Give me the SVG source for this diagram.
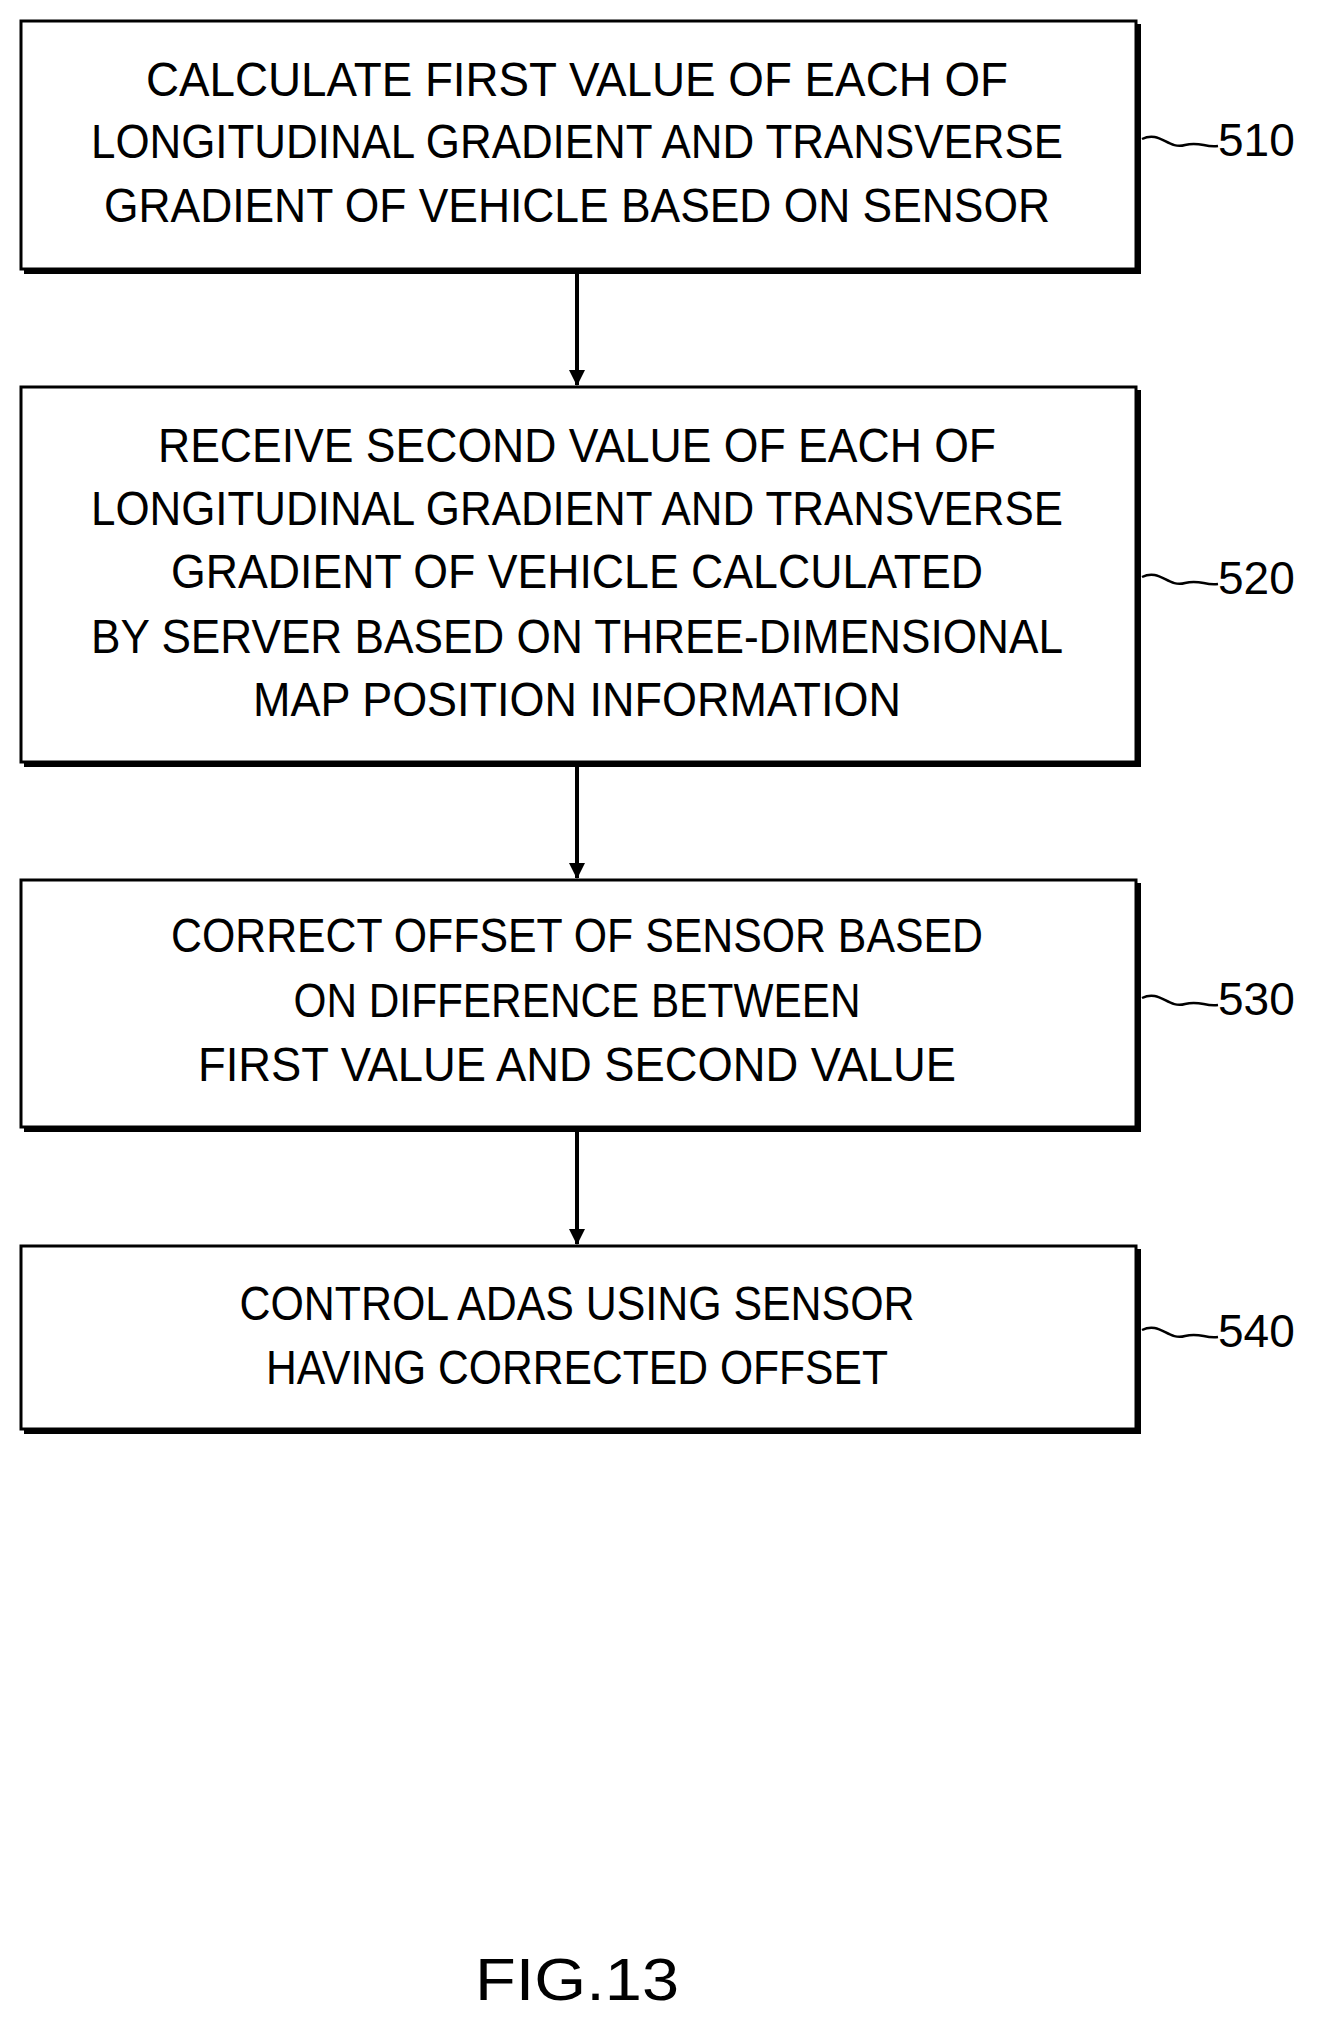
<svg xmlns="http://www.w3.org/2000/svg" width="1322" height="2034" viewBox="0 0 1322 2034">
<style>
.box{fill:#fff;stroke:#000;stroke-width:3}
.sh{stroke:#000;stroke-width:6;fill:none}
.t{font-family:"Liberation Sans",Arial,sans-serif;font-size:48px;text-anchor:middle;fill:#000}
.lb{font-family:"Liberation Sans",Arial,sans-serif;font-size:46px;fill:#000}
.sq{fill:none;stroke:#000;stroke-width:2.5}
</style>
<defs><marker id="ah" markerWidth="16" markerHeight="22" refX="15" refY="8" orient="auto" markerUnits="userSpaceOnUse"><path d="M0,0 L16,8 L0,16 Z" fill="#000"/></marker></defs>
<g id="connectors">
<line x1="577" y1="272" x2="577" y2="385" stroke="#000" stroke-width="4" marker-end="url(#ah)"/>
<line x1="577" y1="765" x2="577" y2="878" stroke="#000" stroke-width="4" marker-end="url(#ah)"/>
<line x1="577" y1="1130" x2="577" y2="1244" stroke="#000" stroke-width="4" marker-end="url(#ah)"/>
</g>
<g id="n510">
<rect class="box" x="21" y="21" width="1115" height="248"/>
<path class="sh" d="M24,271 H1138 V24"/>
<text class="t" x="577" y="96" textLength="862" lengthAdjust="spacingAndGlyphs">CALCULATE FIRST VALUE OF EACH OF</text>
<text class="t" x="577" y="158" textLength="972" lengthAdjust="spacingAndGlyphs">LONGITUDINAL GRADIENT AND TRANSVERSE</text>
<text class="t" x="577" y="222" textLength="946" lengthAdjust="spacingAndGlyphs">GRADIENT OF VEHICLE BASED ON SENSOR</text>
<path class="sq" d="M1142,139 C1160,130 1168,150 1185,145 C1200,141 1205,148 1218,146"/>
<text class="lb" x="1218" y="156">510</text>
</g>
<g id="n520">
<rect class="box" x="21" y="387" width="1115" height="375"/>
<path class="sh" d="M24,764 H1138 V390"/>
<text class="t" x="577" y="462" textLength="838" lengthAdjust="spacingAndGlyphs">RECEIVE SECOND VALUE OF EACH OF</text>
<text class="t" x="577" y="525" textLength="972" lengthAdjust="spacingAndGlyphs">LONGITUDINAL GRADIENT AND TRANSVERSE</text>
<text class="t" x="577" y="588" textLength="812" lengthAdjust="spacingAndGlyphs">GRADIENT OF VEHICLE CALCULATED</text>
<text class="t" x="577" y="653" textLength="972" lengthAdjust="spacingAndGlyphs">BY SERVER BASED ON THREE-DIMENSIONAL</text>
<text class="t" x="577" y="716" textLength="648" lengthAdjust="spacingAndGlyphs">MAP POSITION INFORMATION</text>
<path class="sq" d="M1142,577 C1160,568 1168,588 1185,583 C1200,579 1205,586 1218,584"/>
<text class="lb" x="1218" y="594">520</text>
</g>
<g id="n530">
<rect class="box" x="21" y="880" width="1115" height="247"/>
<path class="sh" d="M24,1129 H1138 V883"/>
<text class="t" x="577" y="952" textLength="812" lengthAdjust="spacingAndGlyphs">CORRECT OFFSET OF SENSOR BASED</text>
<text class="t" x="577" y="1017" textLength="567" lengthAdjust="spacingAndGlyphs">ON DIFFERENCE BETWEEN</text>
<text class="t" x="577" y="1081" textLength="758" lengthAdjust="spacingAndGlyphs">FIRST VALUE AND SECOND VALUE</text>
<path class="sq" d="M1142,998 C1160,989 1168,1009 1185,1004 C1200,1000 1205,1007 1218,1005"/>
<text class="lb" x="1218" y="1015">530</text>
</g>
<g id="n540">
<rect class="box" x="21" y="1246" width="1115" height="183"/>
<path class="sh" d="M24,1431 H1138 V1249"/>
<text class="t" x="577" y="1320" textLength="675" lengthAdjust="spacingAndGlyphs">CONTROL ADAS USING SENSOR</text>
<text class="t" x="577" y="1384" textLength="622" lengthAdjust="spacingAndGlyphs">HAVING CORRECTED OFFSET</text>
<path class="sq" d="M1142,1330 C1160,1321 1168,1341 1185,1336 C1200,1332 1205,1339 1218,1337"/>
<text class="lb" x="1218" y="1347">540</text>
</g>
<text class="t" x="577" y="2000" style="font-size:60px" textLength="204" lengthAdjust="spacingAndGlyphs">FIG.13</text>
</svg>
